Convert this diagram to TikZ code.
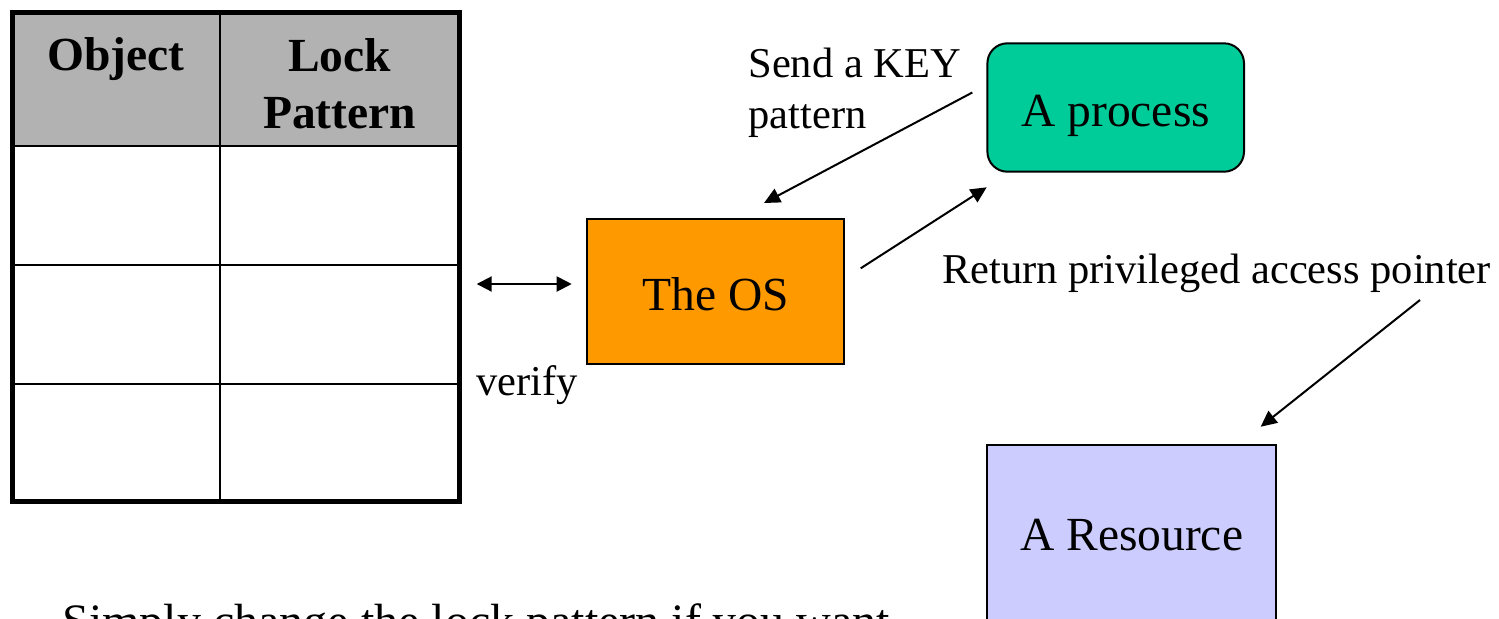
\documentclass[tikz,border=0pt]{standalone}
\usepackage{fontspec}
\setmainfont{Liberation Serif}
\usetikzlibrary{arrows.meta}
\definecolor{hdrgray}{RGB}{178,178,178}
\definecolor{osorange}{RGB}{255,153,0}
\definecolor{procgreen}{RGB}{0,204,153}
\definecolor{reslav}{RGB}{204,204,255}
\newcommand\boxfont{\fontsize{23.75pt}{28pt}\selectfont}
\newcommand\hdrfont{\fontsize{23.75pt}{28.35pt}\selectfont\bfseries}
\newcommand\lblfont{\fontsize{21.25pt}{25.5pt}\selectfont}
\newcommand\notefont{\fontsize{24pt}{28pt}\selectfont}
\tikzset{
  box/.style={draw=black, line width=1pt, inner sep=0pt, font=\boxfont, text height=19pt, text depth=0pt},
  arr/.style={line width=1pt, -{Triangle[length=8pt,width=7.5pt]}},
  darr/.style={line width=1pt, {Triangle[length=7.5pt,width=7.5pt]}-{Triangle[length=7.5pt,width=7.5pt]}},
  lbl/.style={inner sep=0pt, font=\lblfont},
  hdr/.style={inner sep=0pt, font=\hdrfont},
  thin/.style={line width=1pt},
  thick border/.style={line width=2.5pt}
}
\begin{document}
\begin{tikzpicture}[x=0.5pt,y=-0.5pt]
\useasboundingbox (0,0) rectangle (1499,618);
% table
\fill[hdrgray] (12.5,12.5) rectangle (459.5,145.5);
\draw[thin] (12.5,145.5) -- (459.5,145.5)
            (12.5,265) -- (459.5,265)
            (12.5,383.5) -- (459.5,383.5)
            (219.5,12.5) -- (219.5,501);
\draw[thick border] (12.5,12.5) rectangle (459.5,501);
\node[hdr, anchor=base] (hobj) at (116,70) {Object};
\node[hdr, anchor=north, align=center] (hlock) at (339.5,38) {Lock\\Pattern};
% boxes
\node[box, fill=osorange, minimum width=128.5pt, minimum height=72.3pt] (os) at (715.8,291.7) {The OS};
\node[box, fill=procgreen, rounded corners=10pt, minimum width=128.3pt, minimum height=64.2pt] (proc) at (1115.7,107.5) {A process};
\node[box, fill=reslav, anchor=north, minimum width=144.3pt, minimum height=94pt, text depth=8pt] (res) at (1131.7,444) {A Resource};
% connector end points
\coordinate (vl) at (476.7,284);
\coordinate (vr) at (571.7,284);
\coordinate (ks) at (972.3,92.5);
\coordinate (kt) at (764,203);
\coordinate (os1) at (860.7,268.3);
\coordinate (pt) at (986.7,187.3);
\coordinate (rs) at (1420,300);
\coordinate (rt) at (1260.7,426.7);
\draw[darr] (vl) -- (vr);
\draw[arr] (ks) -- (kt);
\draw[arr] (os1) -- (pt);
\draw[arr] (rs) -- (rt);
% labels
\node[lbl, anchor=north west, align=left] (send) at (748,48) {Send a KEY\\pattern};
\node[lbl, anchor=base west] (verify) at (476,395) {verify};
\node[lbl, anchor=base west] (ret) at (941.7,283.5) {Return privileged access pointer};
\node[inner sep=0pt, font=\notefont, anchor=base west] (note) at (62,637) {Simply change the lock pattern if you want};
\end{tikzpicture}
\end{document}
